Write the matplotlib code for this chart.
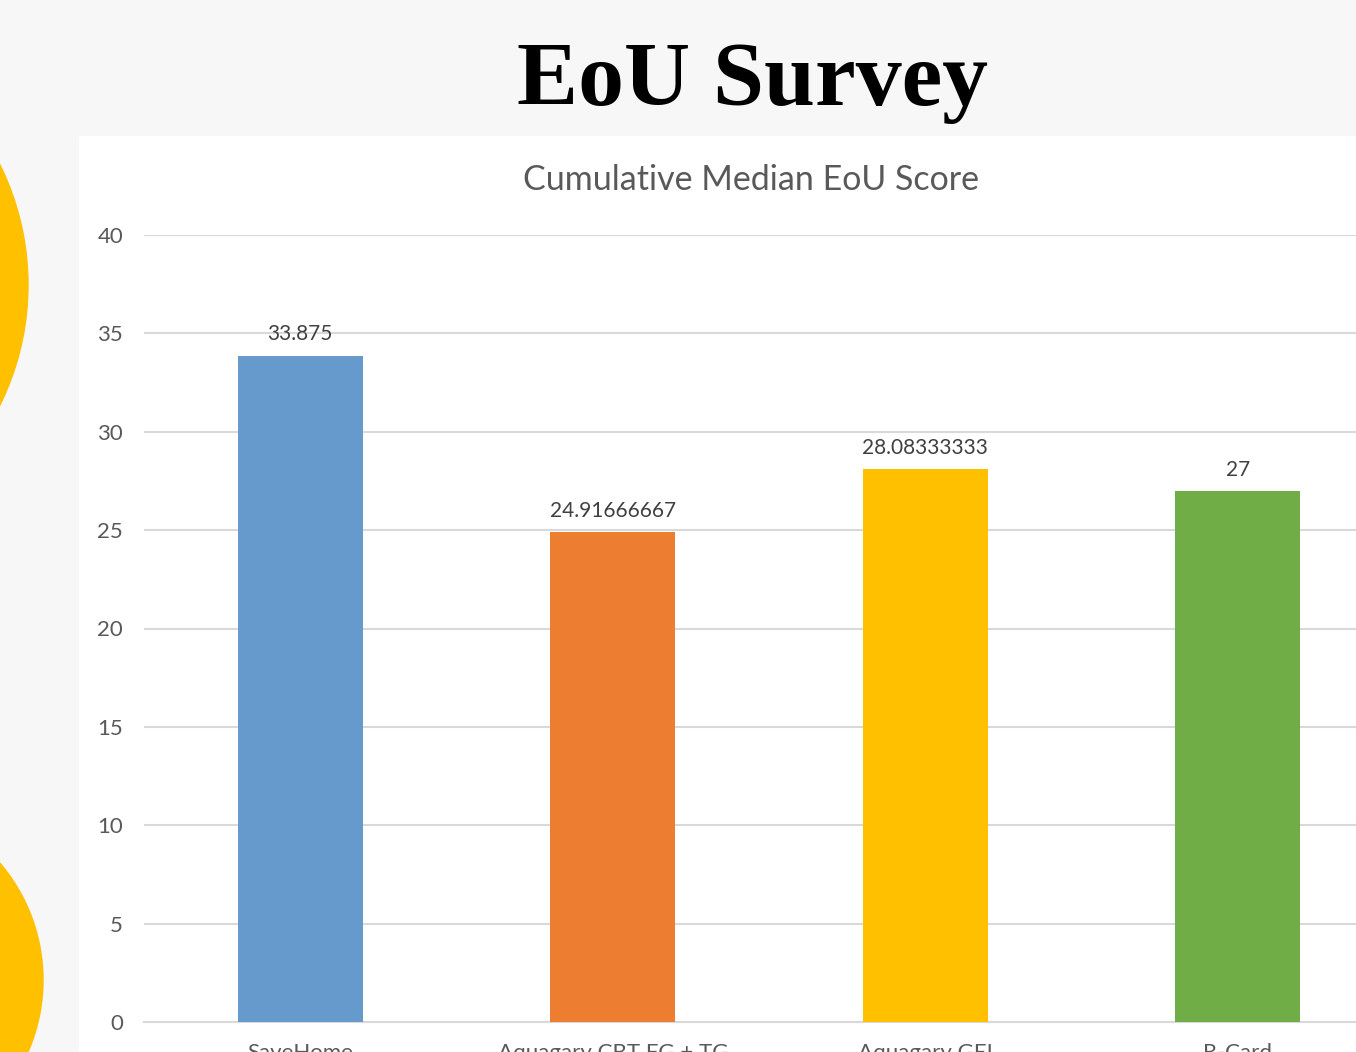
import matplotlib
matplotlib.use("Agg")
import matplotlib.pyplot as plt
from matplotlib.patches import Circle, Rectangle

categories = ["SaveHome", "Aquagary CBT FG + TG", "Aquagary GEI", "R-Card"]
values = [33.875, 24.91666667, 28.08333333, 27]
value_labels = ["33.875", "24.91666667", "28.08333333", "27"]
colors = ["#6699cc", "#ed7d31", "#ffc000", "#70ad47"]
yticks = [0, 5, 10, 15, 20, 25, 30, 35, 40]

W, H = 1356, 1052
fig = plt.figure(figsize=(W / 100, H / 100), dpi=100)
fig.patch.set_facecolor("#f7f7f7")

# decorative circles (pixel coords -> inches)
for cx, cy, r in [(-243, 285, 271), (-137, 980, 180)]:
    fig.add_artist(Circle((cx / 100, (H - cy) / 100), r / 100,
                          transform=fig.dpi_scale_trans, color="#ffc000", zorder=0))

# white chart panel
fig.add_artist(Rectangle((79 / W, 0), 1 - 79 / W, (H - 136) / H,
                         transform=fig.transFigure, color="white", zorder=0))

fig.text(752 / W, 1 - 83 / H, "EoU Survey", ha="center", va="center",
         fontsize=66, fontweight="bold", family="Liberation Serif", color="black")

left, right = 144, 1394
bottom, top = 1022, 235
ax = fig.add_axes([left / W, 1 - bottom / H, (right - left) / W, (bottom - top) / H])
ax.set_facecolor("none")
x = list(range(len(categories)))
ax.bar(x, values, width=0.4, color=colors, zorder=3)
ax.set_xlim(-0.5, 3.5)
ax.set_ylim(0, 40)
ax.set_yticks(yticks)
ax.set_xticks(x)
ax.set_xticklabels(categories)
ax.grid(axis="y", color="#d9d9d9", linewidth=1.5, zorder=0)
for s in ["top", "right", "left"]:
    ax.spines[s].set_visible(False)
ax.spines["bottom"].set_color("#d9d9d9")
ax.spines["bottom"].set_linewidth(1.5)
ax.tick_params(axis="both", length=0, labelsize=16, labelcolor="#595959")
ax.tick_params(axis="y", pad=15)
ax.tick_params(axis="x", pad=15)
for lab in ax.get_xticklabels() + ax.get_yticklabels():
    lab.set_family("Lato")
for xi, v, t in zip(x, values, value_labels):
    ax.annotate(t, (xi, v), xytext=(0, 8), textcoords="offset points",
                ha="center", va="bottom", fontsize=15, color="#404040", family="Lato")

fig.text(751 / W, 1 - 180 / H, "Cumulative Median EoU Score", ha="center", va="center",
         fontsize=24.5, color="#595959", family="Lato")

fig.savefig("out.png", dpi=100, facecolor=fig.get_facecolor())
